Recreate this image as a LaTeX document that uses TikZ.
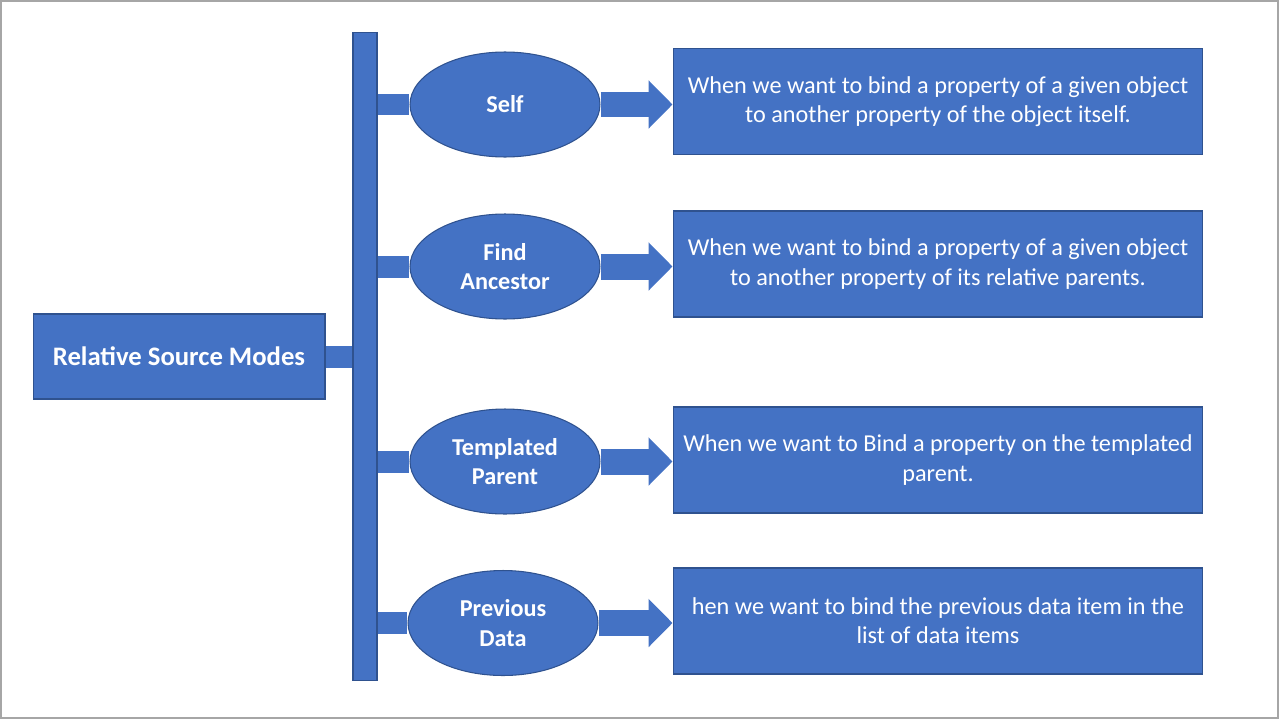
\documentclass[tikz,border=0pt]{standalone}
\usepackage{fontspec}
\setmainfont{Carlito}
\usetikzlibrary{shapes.geometric,arrows.meta,backgrounds}
\definecolor{boxblue}{HTML}{4472C4}
\definecolor{edgeblue}{HTML}{2F528F}
\tikzset{
  blockbox/.style={draw=edgeblue, fill=boxblue, text=white, line width=0.6pt, inner sep=0pt},
  modebox/.style={blockbox, ellipse, minimum width=3.8cm, minimum height=2.1cm,
    align=center, font=\fontsize{13.8}{16.6}\selectfont\bfseries},
  infobox/.style={blockbox, rectangle, minimum width=10.6cm, minimum height=2.12cm,
    align=center, font=\fontsize{13.8}{16.6}\selectfont},
  stub/.style={draw=boxblue, line width=0.44cm},
  fatarrow/.style={draw=boxblue, line width=0.52cm,
    -{Triangle[length=0.48cm, width=0.94cm]}}
}
\begin{document}
\begin{tikzpicture}[x=0.02cm, y=-0.02cm]
\useasboundingbox (0,0) rectangle (1280,720);
\draw[gray!70, line width=0.8pt] (1,1) rectangle (1278,718);
\node[blockbox, minimum width=5.84cm, minimum height=1.7cm,
  font=\fontsize{15.2}{18}\selectfont\bfseries](root) at (179,356.5) {Relative Source Modes};
\node[blockbox, minimum width=0.48cm, minimum height=12.98cm](bar) at (365,356.5) {};
\node[modebox](self) at (505,104.5) {Self};
\node[modebox](anc) at (505,266.5) {Find\\Ancestor};
\node[modebox](tpl) at (505,461.5) {Templated\\Parent};
\node[modebox](prev) at (503,623) {Previous\\Data};
\node[infobox](selfT) at (938,101.5) {When we want to bind a property of a given object\\to another property of the object itself.};
\node[infobox](ancT) at (938,264) {When we want to bind a property of a given object\\to another property of its relative parents.};
\node[infobox](tplT) at (938,460) {When we want to Bind a property on the templated\\parent.};
\node[infobox](prevT) at (938,621) {hen we want to bind the previous data item in the\\list of data items};
\begin{scope}[on background layer]
\draw[stub] (root.east) -- (root.east -| bar.west);
\draw[stub] (bar.east |- self) -- (self.west);
\draw[stub] (bar.east |- anc) -- (anc.west);
\draw[stub] (bar.east |- tpl) -- (tpl.west);
\draw[stub] (bar.east |- prev) -- (prev.west);
\draw[fatarrow] (self.east) -- (self.east -| selfT.west);
\draw[fatarrow] (anc.east) -- (anc.east -| ancT.west);
\draw[fatarrow] (tpl.east) -- (tpl.east -| tplT.west);
\draw[fatarrow] (prev.east) -- (prev.east -| prevT.west);
\end{scope}
\end{tikzpicture}
\end{document}
